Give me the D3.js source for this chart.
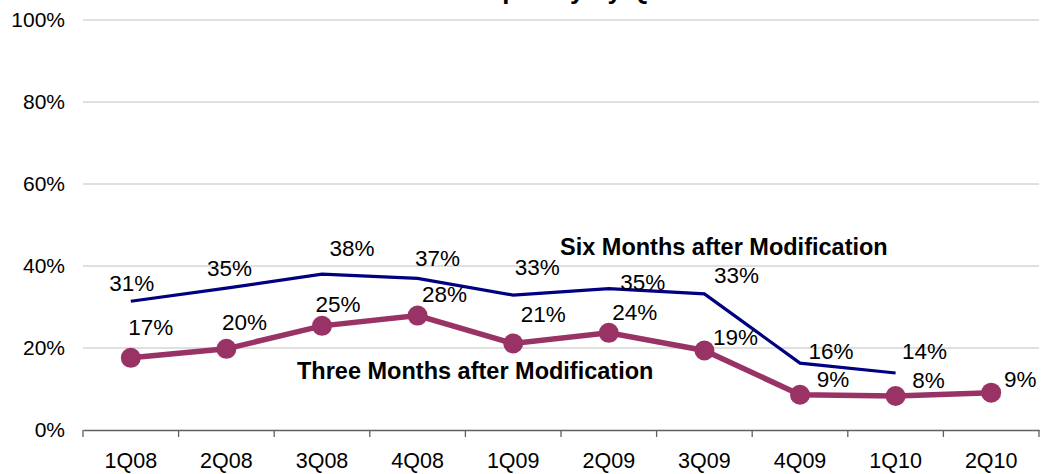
<!DOCTYPE html>
<html><head><meta charset="utf-8">
<script src="https://cdn.jsdelivr.net/npm/d3@7"></script>
<style>body{margin:0;background:#fff}svg{display:block}text{font-family:"Liberation Sans",Arial,sans-serif}</style>
</head><body>
<svg id="c" width="1057" height="474"></svg>
<script>
const categories = ["1Q08","2Q08","3Q08","4Q08","1Q09","2Q09","3Q09","4Q09","1Q10","2Q10"];
const sixMonths = [31.4, 34.6, 38.0, 37.0, 32.9, 34.5, 33.2, 16.3, 13.9, null];
const threeMonths = [17.6, 19.8, 25.4, 27.9, 21.1, 23.7, 19.4, 8.6, 8.3, 9.1];
const sixLabels = ["31%","35%","38%","37%","33%","35%","33%","16%","14%",null];
const threeLabels = ["17%","20%","25%","28%","21%","24%","19%","9%","8%","9%"];
const yTicks = [0,20,40,60,80,100];
// label offsets (layout) relative to points
const sixDx = [1,3,30,20,24,34,32,31,29,0], sixDy = [-18,-20,-26,-20,-28,-6,-18,-12,-22,0];
const threeDx = [20,18,16,27,30,26,31,33,33,29], threeDy = [-30,-26,-21,-21,-29,-20,-13,-15,-15,-13];

const svg = d3.select("#c");
const m = {l:83, r:1039, t:20, b:430};
const x = d3.scaleBand().domain(categories).range([m.l, m.r]);
const y = d3.scaleLinear().domain([0,100]).range([m.b, m.t]);
const cx = d => x(d) + x.bandwidth()/2;

// title (mostly clipped above the view)
svg.append("text").attr("x",617).attr("y",-1).attr("text-anchor","middle")
  .attr("font-size",26).attr("font-weight","bold").text("Re-default Frequency by Quarter of Modification");

// gridlines
svg.append("g").selectAll("line").data(yTicks.filter(t=>t>0)).join("line")
  .attr("x1",m.l).attr("x2",m.r).attr("y1",d=>y(d)).attr("y2",d=>y(d))
  .attr("stroke","#c0c0c0").attr("stroke-width",1);

// y axis labels
const ya = svg.append("g").attr("transform",`translate(${m.l},0)`)
  .call(d3.axisLeft(y).tickValues(yTicks).tickFormat(d=>d+"%").tickSize(0).tickPadding(18));
ya.select(".domain").remove();
ya.selectAll("text").attr("font-size",21).attr("fill","#000").attr("font-family","Liberation Sans, Arial, sans-serif");

// x axis
const xa = svg.append("g").attr("transform",`translate(0,${m.b})`)
  .call(d3.axisBottom(x).tickSize(0).tickPadding(23));
xa.select(".domain").attr("stroke","#606060").attr("stroke-width",1.5);
xa.selectAll("text").attr("font-size",21.5).attr("fill","#000").attr("font-family","Liberation Sans, Arial, sans-serif");
svg.append("g").selectAll("line").data(categories.map(c=>x(c)).concat([m.r])).join("line")
  .attr("x1",d=>d).attr("x2",d=>d).attr("y1",m.b).attr("y2",m.b+7)
  .attr("stroke","#606060").attr("stroke-width",1.3);

// lines
const line = d3.line().defined(d=>d.v!=null).x(d=>cx(d.c)).y(d=>y(d.v));
const sixData = categories.map((c,i)=>({c, v:sixMonths[i]}));
const threeData = categories.map((c,i)=>({c, v:threeMonths[i]}));
svg.append("path").datum(sixData).attr("d",line).attr("fill","none")
  .attr("stroke","#000080").attr("stroke-width",3.2);
svg.append("path").datum(threeData).attr("d",line).attr("fill","none")
  .attr("stroke","#993366").attr("stroke-width",5.5);
svg.append("g").selectAll("circle").data(threeData).join("circle")
  .attr("cx",d=>cx(d.c)).attr("cy",d=>y(d.v)).attr("r",10).attr("fill","#993366");

// data labels
svg.append("g").selectAll("text").data(sixData.filter(d=>d.v!=null)).join("text")
  .attr("x",(d,i)=>cx(d.c)+sixDx[i]).attr("y",(d,i)=>y(d.v)+sixDy[i])
  .attr("text-anchor","middle").attr("dominant-baseline","central")
  .attr("font-size",22.5).text((d,i)=>sixLabels[i]);
svg.append("g").selectAll("text").data(threeData).join("text")
  .attr("x",(d,i)=>cx(d.c)+threeDx[i]).attr("y",(d,i)=>y(d.v)+threeDy[i])
  .attr("text-anchor","middle").attr("dominant-baseline","central")
  .attr("font-size",22.5).text((d,i)=>threeLabels[i]);

// series names
svg.append("text").attr("x",560).attr("y",255).attr("font-size",23.5).attr("font-weight","bold")
  .text("Six Months after Modification");
svg.append("text").attr("x",297).attr("y",379).attr("font-size",23.5).attr("font-weight","bold")
  .text("Three Months after Modification");
</script>
</body></html>
